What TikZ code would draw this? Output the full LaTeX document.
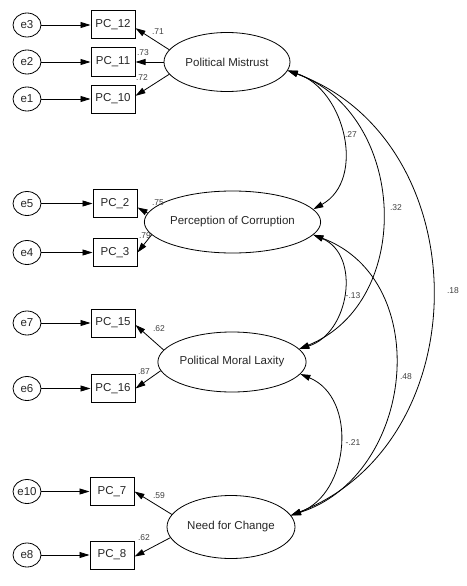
\documentclass[tikz,border=0pt]{standalone}
\usepackage{fontspec}
\setmainfont{Liberation Sans}
\usetikzlibrary{shapes.geometric,arrows.meta}
\begin{document}
\begin{tikzpicture}[x=1pt,y=-1pt,
  every node/.style={font=\fontsize{11.5}{13}\selectfont, text=black!85},
  lat/.style={draw, ellipse, line width=0.8pt, inner sep=0pt},
  obs/.style={draw, rectangle, line width=1pt, minimum width=44pt, minimum height=28pt, inner sep=0pt},
  err/.style={draw, ellipse, line width=0.8pt, minimum width=28pt, minimum height=24pt, inner sep=0pt},
  tip/.style={-{Triangle[length=10pt,width=6pt]}, line width=0.8pt},
  cov/.style={{Triangle[length=10pt,width=6pt]}-{Triangle[length=10pt,width=6pt]}, line width=0.8pt},
  lab/.style={font=\fontsize{8.5}{10}\selectfont, text=black!75, inner sep=0pt}
]
\useasboundingbox (0,0) rectangle (466,586);

% latent variables
\node[lat, minimum width=126pt, minimum height=59pt] (pm)   at (227,62)    {Political Mistrust};
\node[lat, minimum width=139pt, minimum height=62pt] (pc)   at (232.5,222) {Perception of Corruption};
\node[lat, minimum width=130pt, minimum height=60pt] (plax) at (232,362)   {Political Moral Laxity};
\node[lat, minimum width=128pt, minimum height=63pt] (nfc)  at (231,527)   {Need for Change};

% observed variables
\node[obs] (pc12) at (113,25)    {PC\_12};
\node[obs] (pc11) at (113,62)    {PC\_11};
\node[obs] (pc10) at (113,99)    {PC\_10};
\node[obs] (pc2)  at (115,203.5) {PC\_2};
\node[obs] (pc3)  at (115,252.5) {PC\_3};
\node[obs] (pc15) at (113,323)   {PC\_15};
\node[obs] (pc16) at (113,388.5) {PC\_16};
\node[obs] (pc7)  at (112,491.5) {PC\_7};
\node[obs] (pc8)  at (112,555)   {PC\_8};

% error terms
\node[err] (e3)  at (27,25)    {e3};
\node[err] (e2)  at (27,62)    {e2};
\node[err] (e1)  at (27,99)    {e1};
\node[err] (e5)  at (27,203.5) {e5};
\node[err] (e4)  at (27,252.5) {e4};
\node[err] (e7)  at (27,323)   {e7};
\node[err] (e6)  at (27,388.5) {e6};
\node[err] (e10) at (27,491.5) {e10};
\node[err] (e8)  at (27,555)   {e8};

% error arrows
\foreach \e/\p in {e3/pc12,e2/pc11,e1/pc10,e5/pc2,e4/pc3,e7/pc15,e6/pc16,e10/pc7,e8/pc8}
  \draw[tip] (\e) -- (\p);

% loadings
\draw[tip] (pm.168) -- (pc12.-8);
\draw[tip] (pm.180) -- (pc11.east);
\draw[tip] (pm.192) -- (pc10.8);
\draw[tip] (pc.174) -- (pc2.-10);
\draw[tip] (pc.189) -- (pc3.east);
\draw[tip] (plax.170) -- (pc15.-5);
\draw[tip] (plax.187) -- (pc16.east);
\draw[tip] (nfc.168) -- (pc7.east);
\draw[tip] (nfc.190) -- (pc8.-4);

% loading labels
\node[lab] (l1) at (158,32)  {.71};
\node[lab] (l2) at (143,53)  {.73};
\node[lab] (l3) at (142,78)  {.72};
\node[lab] (l4) at (158,203) {.75};
\node[lab] (l5) at (145,236) {.79};
\node[lab] (l6) at (159,329) {.62};
\node[lab] (l7) at (144,372) {.87};
\node[lab] (l8) at (159,496) {.59};
\node[lab] (l9) at (144,538) {.62};

% covariances
\draw[cov] (pm.-8) .. controls +(57.5,19.2) and +(53.0,-29.3) .. (pc.9);
\draw[cov] (pm.-8) .. controls +(118.8,43.0) and +(116.8,-47.9) .. (plax.11);
\draw[cov] (pm.-8) .. controls +(191.0,70.3) and +(189.5,-74.3) .. (nfc.11);
\draw[cov] (pc.-9) .. controls +(48.2,20.4) and +(50.0,-15.5) .. (plax.11);
\draw[cov] (pc.-9) .. controls +(121.6,45.9) and +(123.7,-39.9) .. (nfc.11);
\draw[cov] (plax.-10) .. controls +(57.7,23.9) and +(58.7,-21.5) .. (nfc.11);

% covariance labels
\node[lab] (c1) at (351,135) {.27};
\node[lab] (c2) at (396,208) {.32};
\node[lab] (c3) at (453,291) {.18};
\node[lab] (c4) at (353,296) {-.13};
\node[lab] (c5) at (406,377) {.48};
\node[lab] (c6) at (353,443) {-.21};
\end{tikzpicture}
\end{document}
